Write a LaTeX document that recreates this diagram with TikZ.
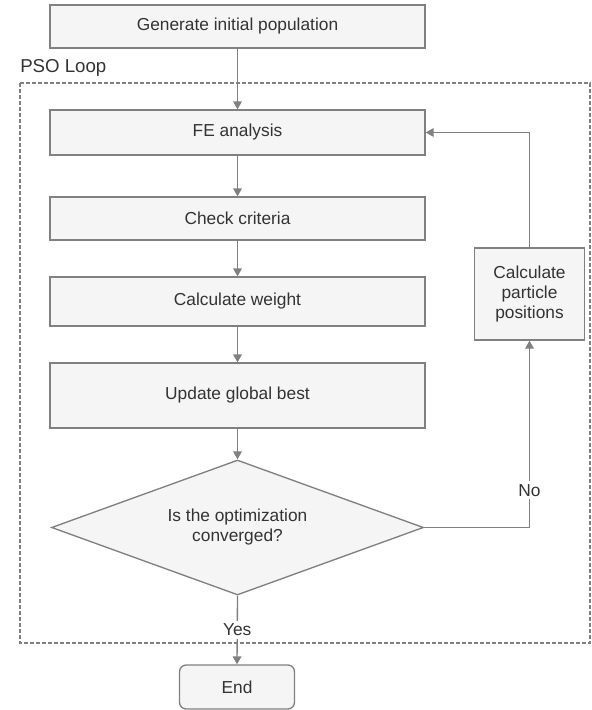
\documentclass[tikz,border=0pt]{standalone}
\usepackage{fontspec}
\setmainfont{Liberation Sans}
\usetikzlibrary{shapes.geometric,arrows.meta}
\definecolor{linegray}{HTML}{808080}
\definecolor{boxfill}{HTML}{F5F5F5}
\definecolor{txt}{HTML}{333333}
\begin{document}
\begin{tikzpicture}[x=0.75pt,y=-0.75pt,
  every node/.style={text=txt,font=\fontsize{13}{15}\selectfont},
  procbox/.style={draw=linegray,fill=boxfill,line width=1pt,inner sep=0pt,align=center},
  decbox/.style={draw=linegray,fill=boxfill,line width=1pt,diamond,aspect=2.76,inner sep=0pt,align=center,
     minimum width=372*0.75pt,minimum height=135*0.75pt},
  flow/.style={draw=linegray,line width=1pt,-{Triangle[width=6.5pt,length=6pt]}},
  lbl/.style={fill=white,inner sep=2pt}]
\useasboundingbox (0,0) rectangle (592,710);
% loop container
\draw[linegray,line width=0.9pt,dash pattern=on 3pt off 1.5pt] (20,83) rectangle (590,643);
\node[anchor=west,inner sep=0pt,font=\fontsize{14}{16}\selectfont] (loopname) at (20,68) {PSO Loop};
% nodes
\node[procbox,minimum width=375*0.75pt,minimum height=43*0.75pt] (gen) at (237.5,26.5) {Generate initial population};
\node[procbox,minimum width=375*0.75pt,minimum height=45*0.75pt] (fe) at (237.5,132.5) {FE analysis};
\node[procbox,minimum width=375*0.75pt,minimum height=43*0.75pt] (check) at (237.5,218.5) {Check criteria};
\node[procbox,minimum width=375*0.75pt,minimum height=49*0.75pt] (weight) at (237.5,301.5) {Calculate weight};
\node[procbox,minimum width=375*0.75pt,minimum height=65*0.75pt] (update) at (237.5,395.5) {Update global best};
\node[decbox] (dec) at (237.5,527.5) {Is the optimization\\converged?};
\node[procbox,minimum width=110*0.75pt,minimum height=92*0.75pt] (calc) at (529.5,294) {Calculate\\particle\\positions};
\node[procbox,rounded corners=5pt,minimum width=115*0.75pt,minimum height=44*0.75pt] (end) at (237,687) {End};
\coordinate (noc) at (calc.south |- dec.east);
\coordinate (back) at (calc.north |- fe.east);
% connectors
\draw[flow] (gen) -- (fe);
\draw[flow] (fe) -- (check);
\draw[flow] (check) -- (weight);
\draw[flow] (weight) -- (update);
\draw[flow] (update) -- (dec);
\draw[flow] (dec.east) -- (noc) -- node[lbl,pos=0.2] (nolbl) {No} (calc.south);
\draw[flow] (calc.north) -- (back) -- (fe.east);
\draw[flow] (dec.south) -- node[lbl,pos=0.5] (yeslbl) {Yes} (end.north);
\end{tikzpicture}
\end{document}
